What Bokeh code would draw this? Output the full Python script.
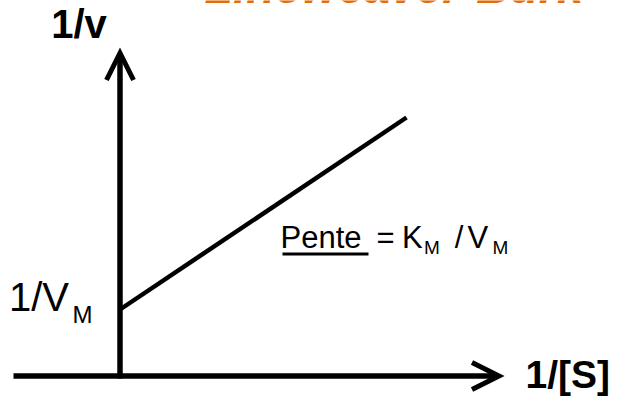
from bokeh.plotting import figure
from bokeh.models import Range1d, Arrow, OpenHead
from bokeh.core.properties import value
from bokeh.embed import file_html
from bokeh.resources import INLINE

# ---- data (schematic Lineweaver-Burk plot, units: arbitrary) ----
s_inv_axis = [-106.5, 384.5]   # extent of the 1/[S] axis
v_inv_axis = [-2.5, 328.5]     # extent of the 1/v axis
s_inv = [0.0, 286.5]           # 1/[S] values of the plotted line
v_inv = [66.5, 258.5]          # 1/v values of the plotted line (intercept = 1/V_M)

title_text = "Lineweaver-Burk"
x_label = "1/[S]"
y_label = "1/v"

FONT = value("Liberation Sans")
BLACK = "#000000"
ORANGE = "#E46C0A"

p = figure(width=619, height=398, output_backend="svg", toolbar_location=None,
           x_range=Range1d(-119.5, 499.5), y_range=Range1d(-22.5, 375.5),
           x_axis_type=None, y_axis_type=None, min_border=0,
           styles={"position": "absolute", "left": "0px", "top": "0px"})
p.grid.visible = False
p.outline_line_color = None
p.background_fill_color = "white"
p.border_fill_color = "white"


def label(x, y, txt, size, style="normal", align="left", color=BLACK):
    # y is the desired baseline; compensate the renderer's baseline shift
    p.text(x=[x], y=[y + 0.35 * size], text=[txt], text_font=FONT,
           text_font_size=f"{size}px", text_font_style=style, text_align=align,
           text_baseline="alphabetic", text_color=color)


# axes drawn as arrows
tip_inset = 5.5
p.add_layout(Arrow(x_start=s_inv_axis[0], y_start=0, x_end=s_inv_axis[1] - tip_inset, y_end=0,
                   line_width=5.5, line_color=BLACK,
                   end=OpenHead(size=27, line_width=5, line_color=BLACK, line_join="miter")))
p.add_layout(Arrow(x_start=0, y_start=v_inv_axis[0], x_end=0, y_end=v_inv_axis[1] - tip_inset,
                   line_width=5.5, line_color=BLACK,
                   end=OpenHead(size=27, line_width=5, line_color=BLACK, line_join="miter")))

# the Lineweaver-Burk line
p.line(s_inv, v_inv, line_width=4.5, line_color=BLACK)

# axis labels
label(-41, v_inv_axis[1] + 9.5, y_label, 40, style="bold", align="center")
label(s_inv_axis[1] + 21, -12.5, x_label, 39, style="bold")

# intercept label 1/V_M
label(-111, v_inv[0] - 1, "1/V", 40)
label(-47.5, v_inv[0] - 13, "M", 24)

# slope label: Pente = K_M / V_M
base = 127.5
sub = 121.5
label(160.5, base, "Pente", 31)
p.line([162.5, 248.5], [122, 122], line_width=3, line_color=BLACK)
label(265.5, base, "=", 31, align="center")
label(282, base, "K", 31)
label(304, sub, "M", 19)
label(339, base, "/", 31, align="center")
label(347.5, base, "V", 31)
label(372.5, sub, "M", 19)

# title (cut at the top, as in the reference)
label(84.5, 373.5, title_text, 47, style="bold italic", color=ORANGE)

open("out.html", "w").write(file_html(p, INLINE))
